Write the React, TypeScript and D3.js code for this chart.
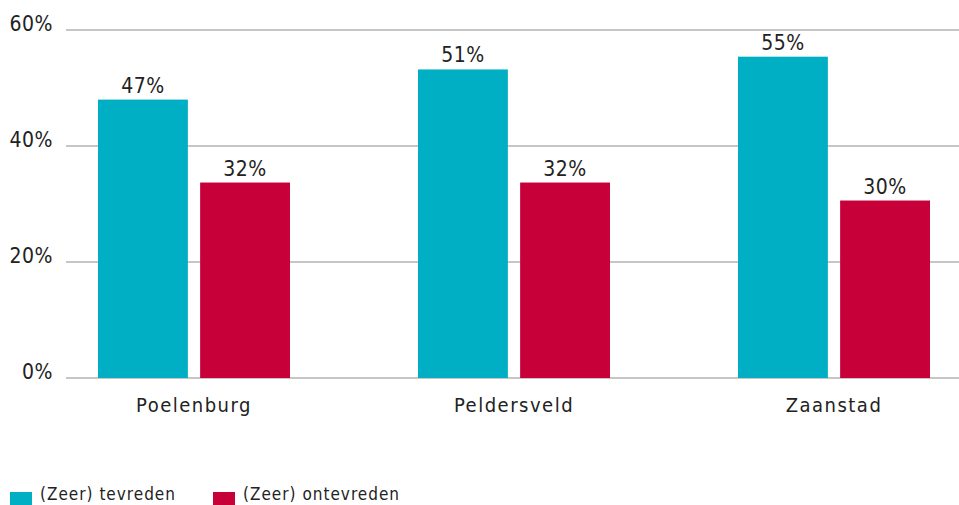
import React from 'react';
import * as d3 from 'd3';

const width = 959;
const height = 505;
const margin = { top: 30, left: 66, bottom: 378 };

const categories = ['Poelenburg', 'Peldersveld', 'Zaanstad'];
const seriesNames = ['(Zeer) tevreden', '(Zeer) ontevreden'];
const tevreden = [48, 53.2, 55.4];
const ontevreden = [33.7, 33.7, 30.6];
const tevredenLabels = ['47%', '51%', '55%'];
const ontevredenLabels = ['32%', '32%', '30%'];
const yTicks = [0, 20, 40, 60];
const colors = ['#00afc3', '#c8003a'];

const font = "'Liberation Sans Narrow', 'DejaVu Sans Condensed', 'Roboto', sans-serif";

export default function App() {
  const y = d3.scaleLinear().domain([0, 60]).range([margin.bottom, margin.top]);
  const x0 = d3.scaleBand().domain(categories).range([34, 994]);
  const x1 = d3.scaleBand<number>().domain([0, 1]).range([0, 192]).paddingInner(0.12);

  const series = [tevreden, ontevreden];
  const labels = [tevredenLabels, ontevredenLabels];

  const groupX = (c: string) => (x0(c) as number) + x0.bandwidth() / 2 - 96;

  return (
    <svg width={width} height={height} style={{ position: 'absolute', left: 0, top: 0, fontFamily: font }}>
      {yTicks.map(t => (
        <g key={t}>
          <line x1={margin.left} x2={width} y1={y(t)} y2={y(t)} stroke="#b3b3b3" strokeWidth={1.5} />
          <text x={53} y={y(t) + 1} textAnchor="end" fontSize={21} fill="#222" letterSpacing={0.5}>
            {t}%
          </text>
        </g>
      ))}
      {categories.map((c, i) => (
        <g key={c} transform={`translate(${groupX(c)},0)`}>
          {series.map((s, j) => (
            <g key={j}>
              <rect
                x={x1(j)}
                y={y(s[i])}
                width={x1.bandwidth()}
                height={y(0) - y(s[i])}
                fill={colors[j]}
              />
              <text
                x={(x1(j) as number) + x1.bandwidth() / 2}
                y={y(s[i]) - 7}
                textAnchor="middle"
                fontSize={21}
                fill="#222"
                letterSpacing={0.5}
              >
                {labels[j][i]}
              </text>
            </g>
          ))}
          <text x={96} y={412} textAnchor="middle" fontSize={20} fill="#222" letterSpacing={1.5}>
            {c}
          </text>
        </g>
      ))}
      {seriesNames.map((n, j) => (
        <g key={n} transform={`translate(${10 + j * 203},492)`}>
          <rect width={22} height={13} fill={colors[j]} />
          <text x={30} y={8} fontSize={17} fill="#222" letterSpacing={1}>
            {n}
          </text>
        </g>
      ))}
    </svg>
  );
}
